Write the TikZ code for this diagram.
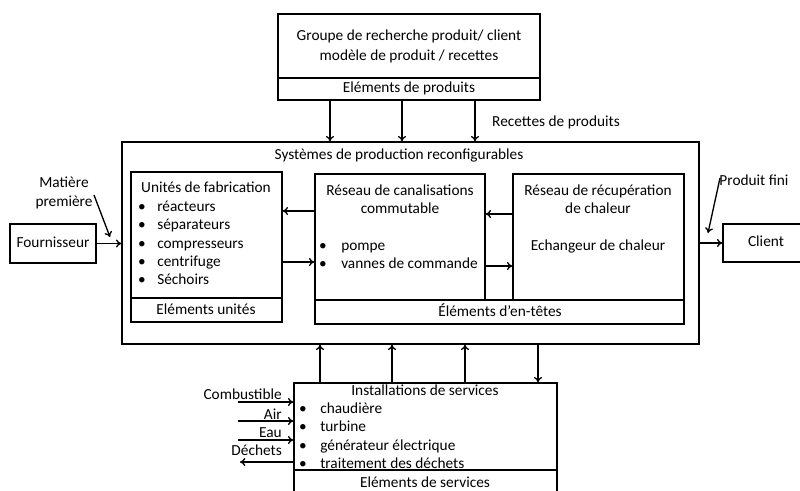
\documentclass[tikz,border=0pt]{standalone}
\usepackage{fontspec}
\setmainfont{Carlito}
\usetikzlibrary{fit,arrows.meta}
\begin{document}
\begin{tikzpicture}[x=0.75pt,y=-0.75pt,
  box/.style={draw, line width=1pt, inner sep=0pt},
  txt/.style={inner sep=0pt, text height=8pt, text depth=2.5pt, font=\fontsize{11.5}{14}\selectfont},
  arr/.style={-{To[length=4pt,width=6pt]}, line width=1pt}]
\useasboundingbox (0,0) rectangle (800,490);

% ---- boxes ----
\node[box, fit={(278,14) (540,100)}] (topbox) {};
\node[box, fit={(278,78) (540,100)}] (topel) {};
\node[box, fit={(122,142) (699,344)}] (outer) {};
\node[box, fit={(131,172) (282,322)}] (unit) {};
\node[box, fit={(131,298) (282,322)}] (unitel) {};
\node[box, fit={(315,174) (485,300)}] (canal) {};
\node[box, fit={(513,174) (684,300)}] (recup) {};
\node[box, fit={(315,300) (684,324)}] (entetes) {};
\node[box, fit={(10,224) (96,263)}] (fourn) {};
\node[box, fit={(723,224) (810,262)}] (client) {};
\node[box, fit={(294,383) (557,505)}] (serv) {};
\node[box, fit={(294,470) (557,505)}] (servel) {};

% ---- texts ----
\node[txt] (t1) at (409,37) {Groupe de recherche produit/ client};
\node[txt] (t2) at (409,57) {modèle de produit / recettes};
\node[txt] (t3) at (409,89) {Eléments de produits};
\node[txt] (rec) at (556,123) {Recettes de produits};
\node[txt] (sys) at (399,156) {Systèmes de production reconfigurables};

\node[txt] (uh) at (206,189) {Unités de fabrication};
\foreach \y/\s [count=\i] in {208/réacteurs, 226/séparateurs, 245/compresseurs, 263/centrifuge, 281/Séchoirs}{
  \node[txt] (ub\i) at (142,\y) {•};
  \node[txt, anchor=west] (ul\i) at (157,\y) {\s};
}
\node[txt] (ue) at (206,311) {Eléments unités};

\node[txt] (c1) at (400,192) {Réseau de canalisations};
\node[txt] (c2) at (400,210) {commutable};
\foreach \y/\s [count=\i] in {247/pompe, 265/vannes de commande}{
  \node[txt] (cb\i) at (323,\y) {•};
  \node[txt, anchor=west] (cl\i) at (341,\y) {\s};
}
\node[txt] (r1) at (598,192) {Réseau de récupération};
\node[txt] (r2) at (598,210) {de chaleur};
\node[txt] (r3) at (598,247) {Echangeur de chaleur};
\node[txt] (ee) at (500,313) {Éléments d’en-têtes};

\node[txt] (ft) at (53,244) {Fournisseur};
\node[txt] (ct) at (766,243) {Client};
\node[txt, align=center, text height=, text depth=] (mp) at (64,193) {Matière\\première};
\node[txt] (pf) at (754,182) {Produit fini};

\node[txt] (sh) at (425,392) {Installations de services};
\foreach \y/\s [count=\i] in {410/chaudière, 428/turbine, 447/générateur électrique, 465/traitement des déchets}{
  \node[txt] (sb\i) at (303,\y) {•};
  \node[txt, anchor=west] (sl\i) at (320,\y) {\s};
}
\node[txt] (se) at (425,484) {Eléments de services};

\node[txt, anchor=east] (lc) at (282,396) {Combustible};
\node[txt, anchor=east] (la) at (282,416) {Air};
\node[txt, anchor=east] (lw) at (282,434) {Eau};
\node[txt, anchor=east] (ld) at (282,452) {Déchets};

% ---- helper coordinates ----
\coordinate (ax1) at (330,0);
\coordinate (ax2) at (402,0);
\coordinate (ax3) at (475,0);
\coordinate (bx1) at (320,0);
\coordinate (bx2) at (392,0);
\coordinate (bx3) at (465,0);
\coordinate (bx4) at (538,0);
\coordinate (ya) at (0,211);
\coordinate (yb) at (0,262);
\coordinate (yc) at (0,214);
\coordinate (yd) at (0,266);
\coordinate (mpa) at (94,195);
\coordinate (mpb) at (110,237);
\coordinate (pfa) at (720,178);
\coordinate (pfb) at (708,233);
\coordinate (inc) at (238,402);
\coordinate (ina) at (238,421);
\coordinate (inw) at (238,440);
\coordinate (outd) at (240,462);

% ---- connectors ----
\foreach \a in {ax1,ax2,ax3}
  \draw[arr] (topel.south -| \a) -- (outer.north -| \a);
\foreach \a in {bx1,bx2,bx3}
  \draw[arr] (serv.north -| \a) -- (outer.south -| \a);
\draw[arr] (outer.south -| bx4) -- (serv.north -| bx4);

\draw[arr] (canal.west |- ya) -- (unit.east |- ya);
\draw[arr] (unit.east |- yb) -- (canal.west |- yb);
\draw[arr] (recup.west |- yc) -- (canal.east |- yc);
\draw[arr] (canal.east |- yd) -- (recup.west |- yd);

\draw[arr] (fourn.east) -- (outer.west |- fourn.east);
\draw[arr] (outer.east |- client.west) -- (client.west);
\draw[arr] (mpa) -- (mpb);
\draw[arr] (pfa) -- (pfb);

\draw[arr] (inc) -- (serv.west |- inc);
\draw[arr] (ina) -- (serv.west |- ina);
\draw[arr] (inw) -- (serv.west |- inw);
\draw[arr] (serv.west |- outd) -- (outd);
\end{tikzpicture}
\end{document}
